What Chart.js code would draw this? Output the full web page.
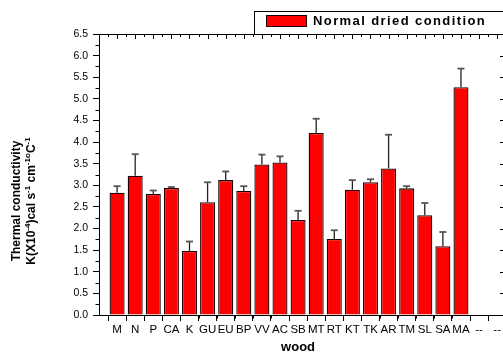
<!DOCTYPE html>
<html>
<head>
<meta charset="utf-8">
<script src="https://cdn.jsdelivr.net/npm/chart.js@4"></script>
<style>
  html, body { margin: 0; padding: 0; background: #fff; }
  #wrap { width: 503px; height: 353px; position: relative; }
</style>
</head>
<body>
<div id="wrap"><canvas id="c" width="503" height="353"></canvas></div>
<script>
// ---- data ----
const categories = ['M','N','P','CA','K','GU','EU','BP','VV','AC','SB','MT','RT','KT','TK','AR','TM','SL','SA','MA'];
const extraTicks = ['--','--'];
const conductivity = [2.83,3.22,2.80,2.94,1.48,2.61,3.12,2.87,3.48,3.53,2.20,4.21,1.76,2.90,3.07,3.39,2.93,2.31,1.59,5.27];
const errorUp      = [0.15,0.50,0.08,0.02,0.22,0.46,0.20,0.11,0.23,0.14,0.21,0.33,0.20,0.22,0.07,0.78,0.05,0.28,0.33,0.43];
const seriesLabel = 'Normal dried condition';
const xTitle = 'wood';
const yTitleLine1 = 'Thermal conductivity';
const yTitleLine2 = [['K(X10',false],['-4',true],[')cal s',false],['-1',true],[' cm',false],['-1o',true],['C',false],['-1',true]];
const yMin = 0, yMax = 6.5, yStep = 0.5;

const FONT = "'Liberation Sans', Arial, sans-serif";
const labels = [''].concat(categories, extraTicks);
const barData = [null].concat(conductivity, extraTicks.map(() => null));

const decor = {
  id: 'decor',
  afterDatasetsDraw(chart) {
    const ctx = chart.ctx, xs = chart.scales.x, ys = chart.scales.y;
    ctx.save();
    conductivity.forEach((v, i) => {
      const x = xs.getPixelForValue(i + 1);
      const y0 = ys.getPixelForValue(v);
      const y1 = ys.getPixelForValue(v + errorUp[i]);
      ctx.strokeStyle = '#222'; ctx.lineWidth = 1.3;
      ctx.beginPath(); ctx.moveTo(x, y0); ctx.lineTo(x, y1); ctx.stroke();
      ctx.strokeStyle = '#555'; ctx.lineWidth = 1.8;
      ctx.beginPath(); ctx.moveTo(x - 3.5, y1); ctx.lineTo(x + 3.5, y1); ctx.stroke();
    });
    ctx.restore();
  },
  afterDraw(chart) {
    const ctx = chart.ctx, xs = chart.scales.x, ys = chart.scales.y;
    const a = chart.chartArea;
    const L = a.left, B = a.bottom, T = a.top, R = 503;
    ctx.save();
    ctx.strokeStyle = '#000'; ctx.lineWidth = 1;
    ctx.beginPath();
    ctx.moveTo(L, T + 0.5); ctx.lineTo(R, T + 0.5);
    ctx.moveTo(L, B + 0.5); ctx.lineTo(R, B + 0.5);
    ctx.stroke();
    for (let i = 0; i < labels.length; i++) {
      const xm = Math.round(xs.getPixelForValue(i)) + 0.5;
      ctx.beginPath(); ctx.moveTo(xm, T); ctx.lineTo(xm, T + 5); ctx.stroke();
      if (i < labels.length - 1) {
        const xn = Math.round(xs.getPixelForValue(i + 0.5)) + 0.5;
        ctx.beginPath(); ctx.moveTo(xn, B); ctx.lineTo(xn, B + 3.5); ctx.stroke();
        ctx.beginPath(); ctx.moveTo(xn, T); ctx.lineTo(xn, T + 3); ctx.stroke();
      }
    }
    for (let v = yMin; v <= yMax + 1e-9; v += yStep) {
      const y = Math.round(ys.getPixelForValue(v)) + 0.5;
      ctx.beginPath(); ctx.moveTo(R, y); ctx.lineTo(R - 3, y); ctx.stroke();
      if (v + yStep / 2 < yMax) {
        const ym = Math.round(ys.getPixelForValue(v + yStep / 2)) + 0.5;
        ctx.beginPath(); ctx.moveTo(L, ym); ctx.lineTo(L - 3.5, ym); ctx.stroke();
      }
    }
    // legend box
    ctx.fillStyle = '#fff';
    ctx.fillRect(254, 11, 260, T - 11);
    ctx.strokeRect(254.5, 11.5, 260, T - 11);
    ctx.fillStyle = '#ff0000';
    ctx.fillRect(266, 15, 41, 12);
    ctx.strokeStyle = '#200'; ctx.lineWidth = 1;
    ctx.strokeRect(266.5, 15.5, 40, 11);
    ctx.fillStyle = '#000';
    ctx.font = 'bold 13px ' + FONT;
    ctx.letterSpacing = '1.4px';
    ctx.textBaseline = 'middle'; ctx.textAlign = 'left';
    ctx.fillText(chart.data.datasets[0].label, 313, 21.5);
    ctx.letterSpacing = '0px';
    const cy = 201;
    ctx.save();
    ctx.translate(17, cy); ctx.rotate(-Math.PI / 2);
    ctx.font = 'bold 12px ' + FONT; ctx.textAlign = 'center'; ctx.textBaseline = 'middle';
    ctx.fillText(yTitleLine1, 0, 0);
    ctx.restore();
    ctx.save();
    ctx.translate(30, cy); ctx.rotate(-Math.PI / 2);
    const big = 'bold 12px ' + FONT, small = 'bold 8px ' + FONT;
    let w = 0;
    yTitleLine2.forEach(([t, sup]) => { ctx.font = sup ? small : big; w += ctx.measureText(t).width; });
    let x = -w / 2;
    ctx.textAlign = 'left'; ctx.textBaseline = 'alphabetic';
    yTitleLine2.forEach(([t, sup]) => {
      ctx.font = sup ? small : big;
      ctx.fillText(t, x, sup ? 0 : 4.5);
      x += ctx.measureText(t).width;
    });
    ctx.restore();
    ctx.restore();
  }
};

new Chart(document.getElementById('c'), {
  type: 'bar',
  data: {
    labels: labels,
    datasets: [{
      label: seriesLabel,
      data: barData,
      backgroundColor: '#ff0000',
      borderColor: '#1a0000',
      borderWidth: 1.3,
      categoryPercentage: 1,
      barPercentage: 0.83
    }]
  },
  options: {
    responsive: false,
    animation: false,
    devicePixelRatio: 1,
    layout: { padding: { left: 0, right: 3.3, top: 34, bottom: 0 } },
    plugins: { legend: { display: false }, tooltip: { enabled: false } },
    scales: {
      x: {
        type: 'category',
        offset: false,
        grid: { drawOnChartArea: false, drawTicks: true, tickLength: 6, tickColor: '#000', lineWidth: 1 },
        border: { display: true, color: '#000', width: 1 },
        ticks: { autoSkip: false, maxRotation: 0, minRotation: 0, padding: 2, color: '#000', font: { family: FONT, size: 11.5 } },
        title: { display: true, text: xTitle, color: '#000', font: { family: FONT, size: 13, weight: 'bold', lineHeight: 0.9 }, padding: { top: 0, bottom: 0 } },
        afterFit(s) { s.height = 38; }
      },
      y: {
        min: yMin, max: yMax,
        grid: { drawOnChartArea: false, drawTicks: true, tickLength: 6, tickColor: '#000', lineWidth: 1 },
        border: { display: true, color: '#000', width: 1 },
        ticks: { stepSize: yStep, padding: 5, color: '#000', font: { family: FONT, size: 10.5 }, callback: v => Number(v).toFixed(1) },
        afterFit(s) { s.width = 99; }
      }
    }
  },
  plugins: [decor]
});
</script>
</body>
</html>
